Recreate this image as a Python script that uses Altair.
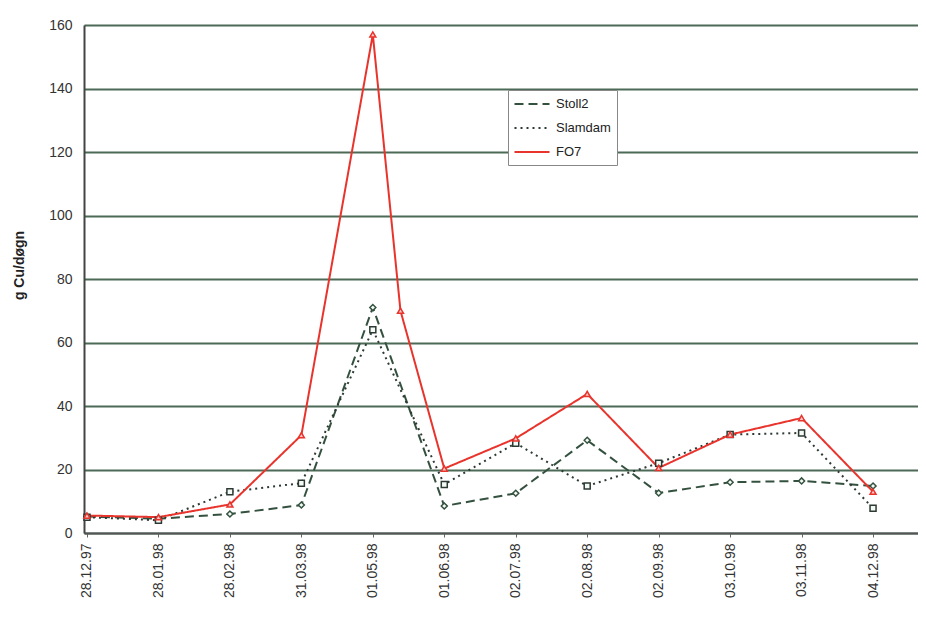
import altair as alt
import pandas as pd
import calendar
from datetime import datetime

# ---- data ----
dates = ["1997-12-28", "1998-01-28", "1998-02-28", "1998-03-31", "1998-05-01", "1998-06-01",
         "1998-07-02", "1998-08-02", "1998-09-02", "1998-10-03", "1998-11-03", "1998-12-04"]
stoll2 = [5.2, 4.5, 6.0, 8.8, 71.0, 8.5, 12.5, 29.2, 12.6, 16.0, 16.4, 14.8]
slamdam = [5.0, 4.0, 13.0, 15.7, 64.0, 15.3, 28.3, 14.8, 22.0, 31.0, 31.5, 7.8]
fo7_dates = ["1997-12-28", "1998-01-28", "1998-02-28", "1998-03-31", "1998-05-01", "1998-05-13",
             "1998-06-01", "1998-07-02", "1998-08-02", "1998-09-02", "1998-10-03", "1998-11-03",
             "1998-12-04"]
fo7 = [5.5, 5.0, 9.0, 30.8, 157.0, 70.0, 20.3, 29.8, 43.8, 20.5, 31.0, 36.2, 13.0]

series = ["Stoll2", "Slamdam", "FO7"]
colors = ["#34513f", "#2d3a33", "#e8342c"]
dashes = [[9, 5], [2, 4], [1, 0]]
shapes = ["diamond", "square", "triangle-up"]
fills = ["#f4fbf6", "#f4fbf6", "#f6c9c8"]
y_ticks = [0, 20, 40, 60, 80, 100, 120, 140, 160]

rows = []
for d, v in zip(dates, stoll2):
    rows.append({"date": d, "value": v, "serie": "Stoll2"})
for d, v in zip(dates, slamdam):
    rows.append({"date": d, "value": v, "serie": "Slamdam"})
for d, v in zip(fo7_dates, fo7):
    rows.append({"date": d, "value": v, "serie": "FO7"})
df = pd.DataFrame(rows)


def ms(s, hours=0):
    dt = datetime.strptime(s, "%Y-%m-%d")
    return (calendar.timegm(dt.timetuple()) + hours * 3600) * 1000


tick_values = [ms(d) for d in dates]
x_domain = [ms("1997-12-26", 17), ms("1998-12-23", 12)]

x = alt.X("date:T",
          scale=alt.Scale(type="utc", domain=x_domain, nice=False),
          axis=alt.Axis(values=tick_values, labelExpr="utcFormat(datum.value, '%d.%m.%y')",
                        labelAngle=-90, labelAlign="right", labelBaseline="middle",
                        labelFontSize=14, labelColor="#333", title=None, grid=False,
                        tickSize=4, tickColor="#666", domainColor="#555", domainWidth=2,
                        labelPadding=6))
y = alt.Y("value:Q",
          scale=alt.Scale(domain=[0, 160], nice=False),
          axis=alt.Axis(values=y_ticks, title="g Cu/døgn", titleFontSize=14,
                        titleFontWeight="bold", titleColor="#222", titlePadding=22,
                        titleY=240,
                        labelFontSize=14, labelColor="#333", grid=True, gridColor="#4d6a57",
                        gridWidth=2, tickSize=0, domainColor="#444", domainWidth=2,
                        labelPadding=12))

legend = alt.Legend(title=None, orient="none", legendX=424, legendY=65,
                    symbolType="M-2.5,0H2.5", symbolStrokeWidth=2, symbolSize=196,
                    symbolOffset=10, labelOffset=16,
                    labelFontSize=13, labelColor="#222", labelFont="Liberation Sans",
                    fillColor="white", strokeColor="#888", padding=6, rowPadding=9)

color = alt.Color("serie:N", sort=series, scale=alt.Scale(domain=series, range=colors),
                  legend=legend)
dash = alt.StrokeDash("serie:N", sort=series, scale=alt.Scale(domain=series, range=dashes),
                      legend=legend)

lines = alt.Chart(df).mark_line(strokeWidth=2).encode(x=x, y=y, color=color, strokeDash=dash,
                                                       order="date:T")

point_layers = []
for s, c, sh, f in zip(series, colors, shapes, fills):
    point_layers.append(
        alt.Chart(df).transform_filter(alt.datum.serie == s)
        .mark_point(size=36, strokeWidth=1.5, opacity=1, filled=False, shape=sh,
                    stroke=c, fill=f, fillOpacity=1)
        .encode(x=x, y=y)
    )

chart = alt.layer(lines, *point_layers).properties(
    width=834, height=508,
    autosize=alt.AutoSizeParams(type="none"),
    padding={"left": 76, "top": 17, "right": 0, "bottom": 85},
    background="white",
).configure_view(fill="#dbf2e1", stroke=None).configure(font="Liberation Sans")

chart.save("out.html", embed_options={"renderer": "svg", "actions": False})
